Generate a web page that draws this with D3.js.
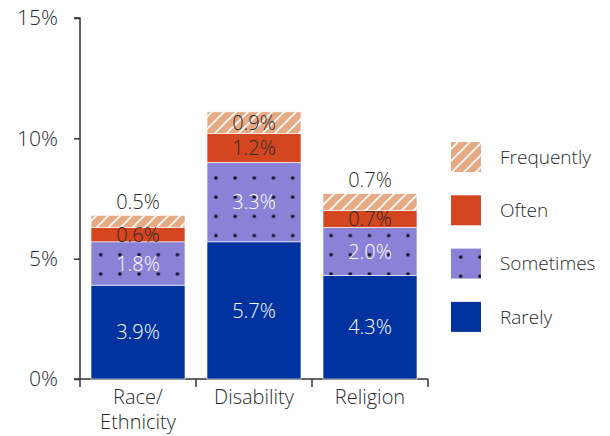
<!DOCTYPE html>
<html><head><meta charset="utf-8">
<script src="https://cdn.jsdelivr.net/npm/d3@7"></script>
<style>body{margin:0;background:#fff;} text{font-family:"Open Sans",sans-serif;font-weight:300;}</style>
</head><body><svg id="c" width="610" height="436"></svg>
<script>
const categories = [["Race/","Ethnicity"],["Disability"],["Religion"]];
const categoryKeys = ["Race/Ethnicity","Disability","Religion"];
const seriesNames = ["Rarely","Sometimes","Often","Frequently"];
const rarely = [3.9, 5.7, 4.3];
const sometimes = [1.8, 3.3, 2.0];
const often = [0.6, 1.2, 0.7];
const frequently = [0.5, 0.9, 0.7];
const yTicks = [0, 5, 10, 15];

const colors = {Rarely:"#0033a0", Sometimes:"#8a82d6", Often:"#d4461f", Frequently:"#e8aa84"};
const labelColors = {Rarely:"#fff", Sometimes:"#fff", Often:"#2a2a2a", Frequently:"#2a2a2a"};
const fills = {Rarely:"#0033a0", Sometimes:"url(#dots)", Often:"#d4461f", Frequently:"url(#hatch)"};
const legendFills = {Rarely:"#0033a0", Sometimes:"url(#dotsL)", Often:"#d4461f", Frequently:"url(#hatch)"};

const table = categoryKeys.map((k,i)=>({cat:k, Rarely:rarely[i], Sometimes:sometimes[i], Often:often[i], Frequently:frequently[i]}));

const svg = d3.select("#c");
const defs = svg.append("defs");
function dotPattern(id, ox, oy){
  const p = defs.append("pattern").attr("id",id).attr("patternUnits","userSpaceOnUse")
    .attr("width",19.2).attr("height",19.2).attr("x",ox).attr("y",oy);
  p.append("rect").attr("width",19.2).attr("height",19.2).attr("fill",colors.Sometimes);
  p.append("circle").attr("cx",9.6).attr("cy",9.6).attr("r",1.8).attr("fill","#111122");
}
dotPattern("dots", 4.7-9.6, 5.1-9.6);
dotPattern("dotsL", 460.7-9.6, 257-9.6);
const h = defs.append("pattern").attr("id","hatch").attr("patternUnits","userSpaceOnUse")
  .attr("width",12).attr("height",12);
h.append("rect").attr("width",12).attr("height",12).attr("fill",colors.Frequently);
h.append("path").attr("d","M-3,3 L3,-3 M0,12 L12,0 M9,15 L15,9").attr("stroke","#fff").attr("stroke-width",1.6);

const x = d3.scaleBand().domain(categoryKeys).range([80,428]).paddingInner(0.19).paddingOuter(0.095);
const y = d3.scaleLinear().domain([0,15]).range([379,18]);

const stack = d3.stack().keys(seriesNames)(table);

// axes
const yAxis = svg.append("g").attr("transform","translate(80,0)")
  .call(d3.axisLeft(y).tickValues(yTicks).tickFormat(d=>d+"%").tickSize(6).tickPadding(16));
yAxis.select(".domain").attr("d","M-6,18H0V379");
const xAxis = svg.append("g").attr("transform","translate(0,379)")
  .call(d3.axisBottom(x).tickSize(0).tickFormat(""));
xAxis.select(".domain").attr("d","M74,0H428");
const bounds = [80].concat(categoryKeys.map(k=>x(k)+x.bandwidth()+x.step()*x.paddingInner()/2));
bounds[3]=428;
xAxis.selectAll(".bt").data(bounds).join("line").attr("x1",d=>d).attr("x2",d=>d).attr("y1",0).attr("y2",8)
  .attr("stroke","#333").attr("stroke-width",1.5);
[yAxis,xAxis].forEach(a=>{a.selectAll(".domain").attr("stroke","#333").attr("stroke-width",1.5).attr("fill","none");
  a.selectAll(".tick line").attr("stroke","#333").attr("stroke-width",1.5);
  a.selectAll(".tick text").attr("fill","#2a2a2a").style("font-size","21px").style("font-family","'Open Sans',sans-serif").style("font-weight",300);});

// category labels
categoryKeys.forEach((k,i)=>{
  const t = svg.append("text").attr("x",x(k)+x.bandwidth()/2).attr("y",404).attr("text-anchor","middle")
    .attr("fill","#2a2a2a").style("font-size","20px");
  categories[i].forEach((line,j)=>t.append("tspan").attr("x",x(k)+x.bandwidth()/2).attr("dy",j?25:0).text(line));
});

// bars
stack.forEach(s=>{
  svg.append("g").selectAll("rect").data(s).join("rect")
    .attr("x",d=>x(d.data.cat)).attr("width",x.bandwidth())
    .attr("y",d=>y(d[1])).attr("height",d=>y(d[0])-y(d[1]))
    .attr("fill",fills[s.key]).attr("stroke","#fff").attr("stroke-width",0.6);
});
stack.forEach(s=>{
  svg.append("g").selectAll("text").data(s).join("text")
    .attr("x",d=>x(d.data.cat)+x.bandwidth()/2)
    .attr("y",d=>{const v=d[1]-d[0]; return v<0.8 && s.key==="Frequently" ? y(d[1])-14 : (y(d[0])+y(d[1]))/2;})
    .attr("dy","0.36em").attr("text-anchor","middle")
    .attr("fill",labelColors[s.key]).style("font-size","20px")
    .text(d=>(d[1]-d[0]).toFixed(1)+"%");
});

// legend
const legOrder = ["Frequently","Often","Sometimes","Rarely"];
legOrder.forEach((k,i)=>{
  const yy = 142 + i*53.3;
  svg.append("rect").attr("x",451).attr("y",yy).attr("width",30).attr("height",30).attr("fill",legendFills[k]);
  svg.append("text").attr("x",500).attr("y",yy+15).attr("dy","0.36em").attr("fill","#2a2a2a")
    .style("font-size","19px").text(k);
});
</script></body></html>
